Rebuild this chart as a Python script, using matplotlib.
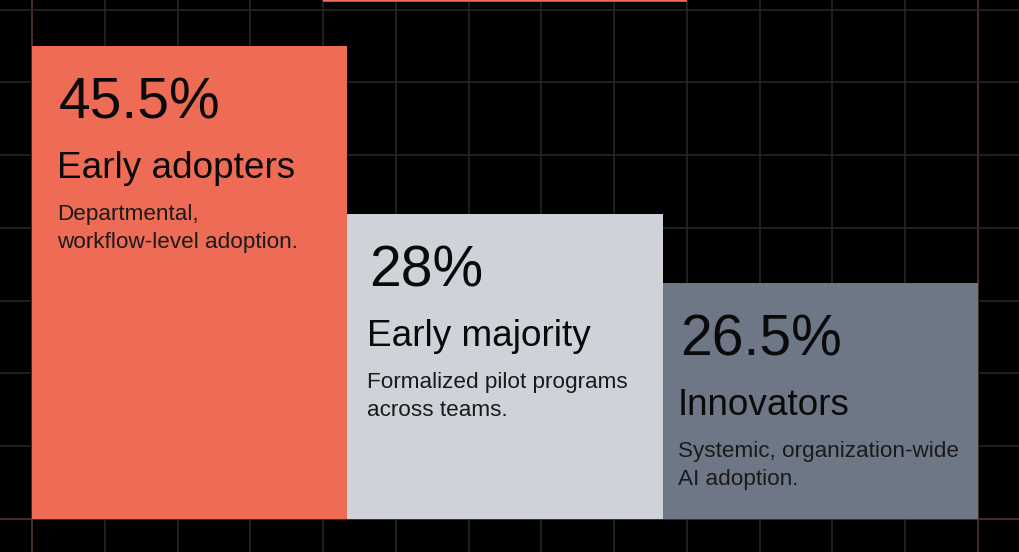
import matplotlib
matplotlib.use("Agg")
import matplotlib.pyplot as plt

# adoption segments, left to right
values = ["45.5%", "28%", "26.5%"]
titles = ["Early adopters", "Early majority", "Innovators"]
descs = ["Departmental,\nworkflow-level adoption.",
         "Formalized pilot programs\nacross teams.",
         "Systemic, organization-wide\nAI adoption."]
heights = [6.5, 4.19, 3.24]          # bar heights in grid cells
colors = ["#EE6B55", "#CFD2D9", "#6E7786"]
text_pad = [0.34, 0.27, 0.21]        # left inset of text, grid cells

BG = "#000000"
GRID = "#28292d"
EDGE = "#5a3a33"
FONT = ["Liberation Sans", "DejaVu Sans"]

fig = plt.figure(figsize=(10.2, 5.52), dpi=100, facecolor=BG)
ax = fig.add_axes([0, 0, 1, 1])
ax.set_facecolor(BG)
ax.set_xlim(-0.44, 13.58)
ax.set_ylim(-0.4536, 7.134)

for gx in range(0, 14):
    ax.axvline(gx, color=EDGE if gx in (0, 13) else GRID, lw=1.1, zorder=1)
for gy in range(0, 8):
    ax.axhline(gy, color=EDGE if gy == 0 else GRID, lw=1.1, zorder=1)

w = 13 / len(values)
lefts = [i * w for i in range(len(values))]
ax.bar(lefts, heights, width=w, align="edge", color=colors, zorder=2, linewidth=0)

# piece of an element cut off at the top edge
ax.plot([4, 9], [7.134, 7.134], color="#EE6B55", lw=2.6, zorder=3,
        clip_on=False, solid_capstyle="butt")

for i in range(len(values)):
    x0 = lefts[i] + text_pad[i]
    top = heights[i]
    kw = dict(xycoords="data", textcoords="offset points", ha="left",
              va="baseline", color="#0a0a0a", family=FONT, zorder=4)
    ax.annotate(values[i], (x0 + 0.03, top), xytext=(0, -72 * 0.72), fontsize=41, **kw)
    ax.annotate(titles[i], (x0, top), xytext=(0, -132 * 0.72), fontsize=26.6, **kw)
    lines = descs[i].split("\n")
    for j, ln in enumerate(lines):
        ax.annotate(ln, (x0, top), xytext=(0, -(174 + 28 * j) * 0.72),
                    fontsize=16.2, color="#1a1a1a", family=FONT,
                    xycoords="data", textcoords="offset points", ha="left",
                    va="baseline", zorder=4)

ax.axis("off")
fig.savefig("out.png", dpi=100, facecolor=BG)
